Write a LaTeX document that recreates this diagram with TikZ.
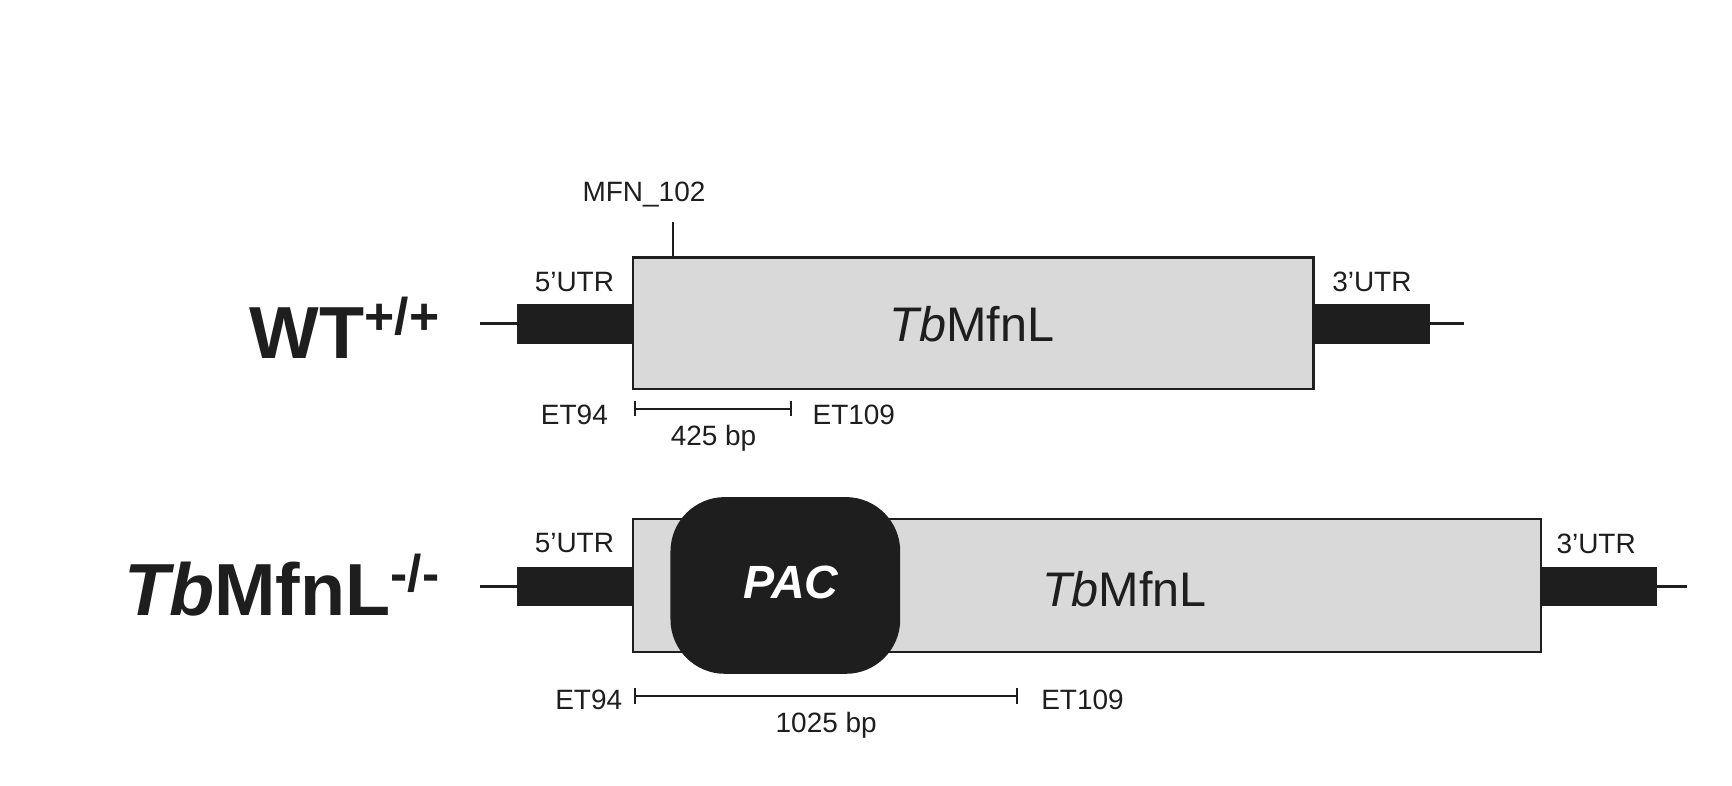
\documentclass[tikz,border=0pt]{standalone}
\usepackage{fontspec}
\setmainfont{Liberation Sans}
\definecolor{gbox}{HTML}{D9D9D9}
\definecolor{dk}{HTML}{1E1E1E}
\begin{document}
\begin{tikzpicture}[x=0.01cm,y=-0.01cm,
  utr/.style={fill=dk,draw=none},
  gene/.style={fill=gbox,draw=dk,line width=0.6pt},
  sm/.style={font=\fontsize{7.2}{8}\selectfont,text=dk},
  mid/.style={font=\fontsize{12.5}{14}\selectfont,text=dk},
  big/.style={font=\fontsize{19}{22}\selectfont\bfseries,text=dk},
  ln/.style={draw=dk,line width=0.8pt},
  br/.style={draw=dk,line width=0.5pt}]
\useasboundingbox (0,0) rectangle (1568,711);
% WT row
\draw[ln] (435,293) -- (468,293);
\draw[ln] (1295,293) -- (1325,293);
\fill[utr] (468,275) rectangle (573,311);
\fill[utr] (1189,275) rectangle (1295,311);
\draw[gene] (573,233) rectangle (1189,352);
\node[mid] (g1) at (880,293) {\textit{Tb}MfnL};
\node[sm] (u1) at (520,255) {5’UTR};
\node[sm] (u2) at (1242,255) {3’UTR};
\node[sm] (mfn) at (583,176) {MFN\_102};
\draw[br] (609,201) -- (609,233);
\node[big,anchor=east] (wt) at (412,297) {WT\textsuperscript{+/+}};
\draw[br] (575,370) -- (716,370);
\draw[br] (575,363) -- (575,377);
\draw[br] (716,363) -- (716,377);
\node[sm] (e1) at (520,376) {ET94};
\node[sm] (e2) at (773,376) {ET109};
\node[sm] (b1) at (646,397) {425 bp};
% KO row
\draw[ln] (435,531) -- (468,531);
\draw[ln] (1500,531) -- (1527,531);
\fill[utr] (468,513) rectangle (573,549);
\fill[utr] (1395,513) rectangle (1500,549);
\draw[gene] (573,470) rectangle (1395,590);
\fill[dk,rounded corners=14] (607,450) rectangle (815,610);
\node[font=\fontsize{12}{14}\selectfont\bfseries\itshape,text=white] (pac) at (716,527) {PAC};
\node[mid] (g2) at (1018,533) {\textit{Tb}MfnL};
\node[sm] (u3) at (520,492) {5’UTR};
\node[sm] (u4) at (1445,492) {3’UTR};
\node[big,anchor=east] (ko) at (412,530) {\textit{Tb}MfnL\textsuperscript{-/-}};
\draw[br] (575,630) -- (921,630);
\draw[br] (575,623) -- (575,637);
\draw[br] (921,623) -- (921,637);
\node[sm] (e3) at (533,634) {ET94};
\node[sm] (e4) at (980,634) {ET109};
\node[sm] (b2) at (748,657) {1025 bp};
\end{tikzpicture}
\end{document}
